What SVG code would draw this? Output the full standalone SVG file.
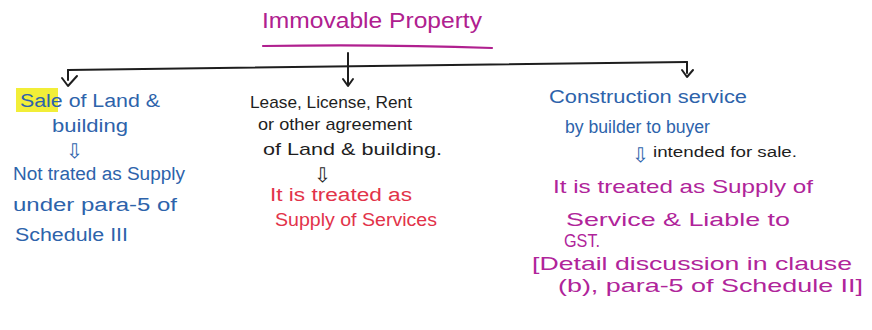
<svg xmlns="http://www.w3.org/2000/svg" width="872" height="330" viewBox="0 0 872 330">
  <style>
    text { font-family: "Liberation Sans", "DejaVu Sans", sans-serif; }
    .blue { fill: #2d63ab; font-size: 18px; }
    .black { fill: #1e1e1e; font-size: 17px; }
    .red { fill: #e2334a; font-size: 18px; }
    .mag { fill: #b0249a; font-size: 19px; }
    .small { fill: #1e1e1e; font-size: 14px; }
    .line { fill: none; stroke: #1e1e1e; stroke-width: 2; stroke-linecap: round; stroke-linejoin: round; }
    .tip { fill: none; stroke: #1e1e1e; stroke-width: 2; stroke-linecap: round; stroke-linejoin: round; }
    .dn { font-size: 20px; }
  </style>
  <rect width="872" height="330" fill="#ffffff"/>

  <!-- heading -->
  <g id="title">
    <text x="262" y="28" fill="#b0208f" font-size="22" textLength="220" lengthAdjust="spacingAndGlyphs">Immovable Property</text>
    <path d="M263 46 Q380 44 492 48" fill="none" stroke="#b0208f" stroke-width="2.2" stroke-linecap="round"/>
  </g>

  <!-- branch lines -->
  <g id="connectors">
    <path class="line" d="M348 53 L348 84"/>
    <path class="tip" d="M343 79 L348 86 L353 79"/>
    <path class="line" d="M68 70 Q380 66 687 62"/>
    <path class="line" d="M68 70 L68 80"/>
    <path class="tip" d="M62 78 L68 86 L77 76"/>
    <path class="line" d="M687 62 L687 73"/>
    <path class="tip" d="M682 70 L687 77 L693 70"/>
  </g>

  <!-- sale of land & building -->
  <g id="sale">
    <rect x="16" y="88" width="42" height="24" fill="#f2ee38"/>
    <text class="blue" x="20" y="107" textLength="140" lengthAdjust="spacingAndGlyphs">Sale of Land &amp;</text>
    <text class="blue" x="52" y="132" textLength="76" lengthAdjust="spacingAndGlyphs">building</text>
    <text class="blue dn" x="66" y="158">⇩</text>
    <text class="blue" x="13" y="180" textLength="172" lengthAdjust="spacingAndGlyphs">Not trated as Supply</text>
    <text class="blue" x="13" y="211" textLength="164" lengthAdjust="spacingAndGlyphs">under para-5 of</text>
    <text class="blue" x="15" y="241" textLength="113" lengthAdjust="spacingAndGlyphs">Schedule III</text>
  </g>

  <!-- lease / licence / rent -->
  <g id="lease">
    <text class="black" x="250" y="108" textLength="162" lengthAdjust="spacingAndGlyphs">Lease, License, Rent</text>
    <text class="black" x="258" y="130" textLength="154" lengthAdjust="spacingAndGlyphs">or other agreement</text>
    <text class="black" x="263" y="155" textLength="179" lengthAdjust="spacingAndGlyphs">of Land &amp; building.</text>
    <text class="black dn" x="314" y="182">⇩</text>
    <text class="red" x="270" y="201" textLength="142" lengthAdjust="spacingAndGlyphs">It is treated as</text>
    <text class="red" x="275" y="226" textLength="162" lengthAdjust="spacingAndGlyphs">Supply of Services</text>
  </g>

  <!-- construction service -->
  <g id="construction">
    <text class="blue" x="549" y="103" font-size="20" textLength="198" lengthAdjust="spacingAndGlyphs">Construction service</text>
    <text class="blue" x="565" y="133" font-size="21" textLength="145" lengthAdjust="spacingAndGlyphs">by builder to buyer</text>
    <text class="blue dn" x="632" y="162">⇩</text>
    <text class="small" x="653" y="157" textLength="144" lengthAdjust="spacingAndGlyphs">intended for sale.</text>
    <text class="mag" x="553" y="193" textLength="260" lengthAdjust="spacingAndGlyphs">It is treated as Supply of</text>
    <text class="mag" x="566" y="226" textLength="224" lengthAdjust="spacingAndGlyphs">Service &amp; Liable to</text>
    <text class="mag" x="564" y="247" textLength="36" lengthAdjust="spacingAndGlyphs">GST.</text>
    <text class="mag" x="532" y="270" textLength="320" lengthAdjust="spacingAndGlyphs">[Detail discussion in clause</text>
    <text class="mag" x="558" y="292" textLength="305" lengthAdjust="spacingAndGlyphs">(b), para-5 of Schedule II]</text>
  </g>
</svg>
